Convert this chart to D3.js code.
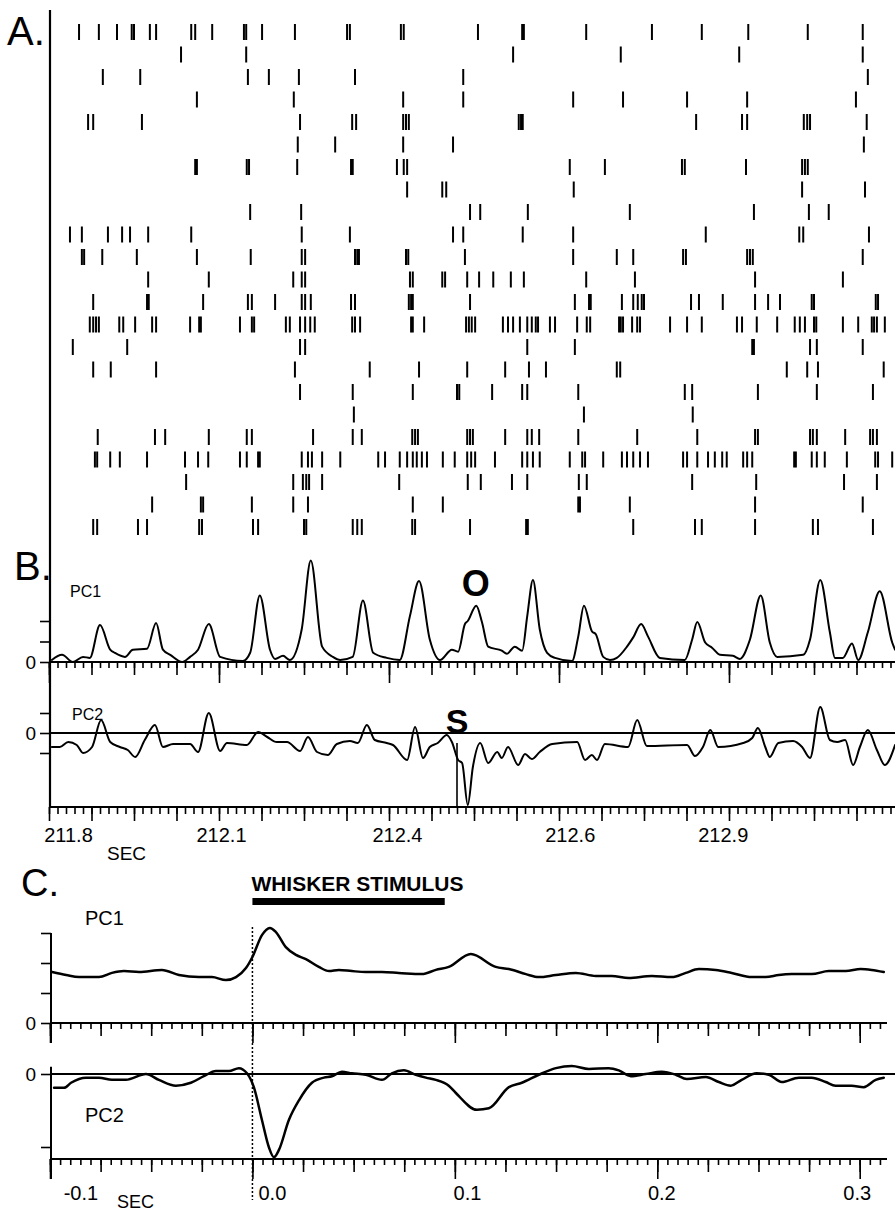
<!DOCTYPE html>
<html>
<head>
<meta charset="utf-8">
<title>Raster, PC1 / PC2 and whisker-stimulus averages</title>
<script src="https://d3js.org/d3.v7.min.js"></script>
<style>
  body { margin: 0; background: #fff; }
  svg { display: block; }
  text { font-family: "Liberation Sans", Arial, sans-serif; fill: #000; }
  .trace { fill: none; stroke: #000; stroke-linejoin: round; stroke-linecap: round; }
</style>
</head>
<body>
<svg width="895" height="1212"></svg>
<script>
// sweep shown in A and B starts here (s); spike times are ms after it
const sweepStart = 211.8;
const sweepEnd = 213.3;

// one list per unit, top row first
const spikeTimesMs = [
  [53, 88, 120, 146, 150, 178, 189, 251, 258, 288, 344, 348, 376, 434, 526, 531, 621, 626, 757, 835, 838, 948, 1064, 1152, 1234, 1339, 1436],
  [233, 348, 819, 1009, 1218, 1436],
  [95, 161, 351, 388, 441, 540, 731, 1445],
  [261, 432, 625, 731, 925, 1013, 1126, 1232, 1424],
  [69, 78, 164, 443, 535, 542, 625, 630, 635, 829, 833, 836, 1142, 1223, 1232, 1332, 1338, 1343, 1443],
  [439, 505, 625, 713, 1438],
  [258, 261, 349, 353, 438, 533, 536, 614, 626, 632, 919, 981, 1117, 1122, 1230, 1329, 1334, 1339],
  [632, 694, 701, 926, 1329, 1440],
  [355, 445, 743, 761, 845, 1025, 1244, 1341, 1376],
  [37, 58, 104, 129, 143, 175, 251, 446, 531, 713, 731, 836, 925, 1159, 1324, 1331, 1447],
  [58, 62, 94, 155, 261, 356, 446, 452, 540, 544, 547, 630, 634, 734, 925, 1002, 1031, 1119, 1124, 1232, 1237, 1242, 1436],
  [175, 282, 431, 446, 452, 637, 642, 694, 699, 738, 759, 784, 815, 838, 948, 1034, 1246, 1401],
  [78, 173, 176, 272, 351, 358, 399, 446, 452, 462, 533, 540, 635, 639, 642, 743, 928, 953, 956, 1011, 1031, 1039, 1046, 1050, 1133, 1147, 1189, 1246, 1269, 1290, 1346, 1350, 1459, 1463],
  [72, 78, 83, 88, 124, 131, 152, 182, 189, 249, 265, 268, 337, 358, 362, 418, 425, 443, 452, 461, 469, 535, 540, 549, 639, 642, 662, 736, 741, 746, 752, 801, 810, 819, 831, 844, 852, 859, 863, 884, 893, 932, 949, 955, 1006, 1009, 1013, 1029, 1038, 1043, 1096, 1126, 1152, 1214, 1223, 1249, 1285, 1316, 1325, 1334, 1350, 1354, 1401, 1428, 1452, 1456, 1461, 1475],
  [42, 138, 443, 452, 844, 928, 1241, 1244, 1343, 1355, 1436],
  [78, 109, 189, 434, 566, 653, 738, 805, 847, 877, 1002, 1008, 1302, 1338, 1357, 1473],
  [443, 536, 642, 720, 724, 782, 835, 844, 934, 1122, 1135, 1251, 1355, 1454],
  [538, 944, 1136],
  [86, 187, 205, 282, 349, 358, 466, 536, 552, 641, 646, 651, 738, 743, 748, 805, 844, 852, 865, 934, 1038, 1144, 1246, 1251, 1343, 1348, 1355, 1405, 1449, 1454, 1461],
  [81, 85, 108, 125, 173, 240, 263, 281, 337, 349, 369, 372, 446, 457, 464, 482, 514, 581, 593, 619, 632, 642, 649, 658, 667, 695, 716, 738, 745, 752, 787, 835, 844, 854, 866, 919, 941, 946, 978, 1011, 1020, 1031, 1043, 1057, 1119, 1126, 1144, 1163, 1175, 1188, 1196, 1225, 1232, 1241, 1315, 1318, 1346, 1355, 1369, 1408, 1458, 1463, 1488],
  [242, 431, 448, 454, 459, 482, 618, 739, 762, 817, 844, 935, 949, 1135, 1248, 1403, 1461],
  [182, 268, 272, 358, 431, 457, 642, 695, 934, 937, 1025, 1246, 1436],
  [78, 85, 157, 173, 265, 270, 360, 369, 450, 454, 536, 544, 552, 641, 646, 743, 842, 845, 1031, 1140, 1152, 1246, 1348, 1357, 1454]
];

// B: [time s, value]
const pc1Sweep = [
  [211.805,0.1],[211.823,0.35],[211.842,0],[211.860,0.25],[211.872,0.2],[211.890,1.8],[211.908,0.6],[211.916,0.45],
  [211.934,0.25],[211.948,0.6],[211.973,0.65],[211.989,1.9],[212.001,0.6],[212.014,0.35],[212.035,0],[212.049,0.25],
  [212.063,0.6],[212.082,1.85],[212.102,0.25],[212.142,0.05],[212.155,0.45],[212.172,3.25],[212.190,0.6],[212.199,0.15],
  [212.213,0.3],[212.225,0.1],[212.246,1.6],[212.262,4.95],[212.282,0.75],[212.301,0.25],[212.314,0.1],[212.336,0.25],
  [212.354,3.0],[212.372,0.45],[212.396,0.2],[212.419,0.1],[212.437,2.25],[212.453,3.95],[212.472,1.1],[212.490,0.1],
  [212.511,0.6],[212.522,0.5],[212.534,1.85],[212.539,2.0],[212.554,2.75],[212.564,1.95],[212.575,0.75],[212.599,0.55],
  [212.608,0.4],[212.622,0.75],[212.635,0.55],[212.644,2.25],[212.654,4.0],[212.666,1.6],[212.679,0.45],[212.693,0.2],
  [212.723,0.05],[212.734,1.25],[212.744,2.75],[212.758,1.5],[212.765,1.35],[212.778,0.25],[212.790,0.1],[212.802,0.2],
  [212.820,0.75],[212.831,1.2],[212.845,1.85],[212.857,1.25],[212.878,0.2],[212.922,0.1],[212.935,1.1],[212.944,1.95],
  [212.958,0.95],[212.970,0.7],[212.984,0.35],[213.007,0.3],[213.019,0.15],[213.037,1.1],[213.056,3.25],[213.072,0.95],
  [213.085,0.25],[213.131,0.35],[213.143,1.1],[213.161,4.0],[213.178,1.45],[213.187,0.2],[213.201,0.2],[213.217,0.9],
  [213.228,0.1],[213.245,1.45],[213.266,3.45],[213.288,0.95],[213.293,0.6]
];

const pc2Sweep = [
  [211.805,-0.7],[211.819,-0.7],[211.834,-0.45],[211.849,-0.6],[211.860,-1.0],[211.876,-0.7],[211.892,0.65],[211.908,-0.45],
  [211.925,-0.7],[211.939,-0.85],[211.952,-1.2],[211.969,-0.35],[211.987,0.4],[212.001,-0.7],[212.019,-0.55],[212.049,-0.55],
  [212.063,-0.95],[212.082,1.0],[212.102,-0.9],[212.114,-0.5],[212.149,-0.6],[212.169,0.05],[212.185,-0.2],[212.202,-0.45],
  [212.220,-0.45],[212.243,-0.9],[212.257,-0.2],[212.273,-0.95],[212.292,-1.1],[212.308,-0.55],[212.331,-0.4],[212.345,-0.5],
  [212.361,0.4],[212.375,-0.35],[212.396,-0.5],[212.407,-0.6],[212.432,-1.35],[212.446,0.3],[212.460,-1.25],[212.472,-0.7],
  [212.486,-0.5],[212.502,-0.1],[212.511,-0.45],[212.522,-1.35],[212.529,-1.5],[212.539,-3.6],[212.548,-1.7],[212.561,-0.5],
  [212.575,-1.5],[212.591,-0.95],[212.599,-1.25],[212.610,-0.7],[212.628,-1.6],[212.640,-1.05],[212.652,-1.3],[212.666,-0.95],
  [212.688,-0.55],[212.732,-0.45],[212.746,-1.35],[212.758,-1.1],[212.767,-1.35],[212.781,-0.55],[212.822,-0.7],[212.838,0.65],
  [212.855,-0.65],[212.926,-0.6],[212.940,-1.15],[212.954,-0.7],[212.967,0.15],[212.981,-0.7],[213.025,-0.5],[213.041,-0.25],
  [213.051,0.25],[213.064,-0.7],[213.072,-1.2],[213.087,-0.5],[213.113,-0.4],[213.129,-0.7],[213.143,-1.25],[213.161,1.3],
  [213.178,-0.35],[213.191,-0.45],[213.205,-0.35],[213.219,-1.6],[213.231,-0.7],[213.245,0.15],[213.261,-0.85],[213.275,-1.6],
  [213.293,-0.6]
];

// C: averages around whisker stimulus, [time s, value]
const pc1Average = [
  [-0.099,1.7],[-0.092,1.6],[-0.0857,1.53],[-0.0758,1.53],[-0.0694,1.67],[-0.0635,1.73],[-0.056,1.7],[-0.0447,1.77],
  [-0.0363,1.6],[-0.0264,1.53],[-0.02,1.53],[-0.0131,1.43],[-0.0081,1.53],[-0.0032,1.83],[0.0,2.2],[0.0047,2.93],
  [0.0086,3.17],[0.0116,3.03],[0.0165,2.53],[0.0215,2.27],[0.0264,2.13],[0.0328,1.87],[0.0378,1.73],[0.0427,1.77],
  [0.0491,1.73],[0.056,1.7],[0.064,1.7],[0.0723,1.67],[0.0837,1.63],[0.0906,1.77],[0.097,1.87],[0.1079,2.3],
  [0.1202,1.87],[0.1267,1.8],[0.1351,1.63],[0.1415,1.53],[0.1499,1.6],[0.1598,1.67],[0.1696,1.57],[0.1775,1.57],
  [0.1859,1.5],[0.1973,1.57],[0.2072,1.53],[0.2141,1.67],[0.2205,1.8],[0.2289,1.77],[0.2368,1.67],[0.2467,1.53],
  [0.2536,1.53],[0.26,1.6],[0.2664,1.63],[0.2763,1.63],[0.2847,1.73],[0.2931,1.73],[0.3005,1.8],[0.3059,1.77],[0.3119,1.7]
];

const pc2Average = [
  [-0.098,-0.19],[-0.0931,-0.19],[-0.0896,-0.12],[-0.0822,-0.05],[-0.0758,-0.05],[-0.0694,-0.08],[-0.0625,-0.08],[-0.0526,0],
  [-0.0462,-0.08],[-0.0378,-0.16],[-0.0304,-0.12],[-0.024,-0.03],[-0.018,0.04],[-0.0116,0.04],[-0.0067,0.08],[-0.0027,0.01],
  [0.0007,-0.18],[0.0047,-0.63],[0.0081,-1.0],[0.0106,-1.14],[0.0131,-1.04],[0.018,-0.63],[0.023,-0.36],[0.0294,-0.12],
  [0.0353,-0.05],[0.0393,-0.03],[0.0442,0.03],[0.0491,0.01],[0.056,-0.01],[0.064,-0.08],[0.0689,0.01],[0.0748,0.05],
  [0.0807,-0.01],[0.0857,-0.05],[0.0906,-0.08],[0.097,-0.16],[0.1005,-0.26],[0.1109,-0.49],[0.1168,-0.47],[0.1267,-0.18],
  [0.1331,-0.12],[0.1415,-0.01],[0.1499,0.08],[0.1578,0.11],[0.1662,0.07],[0.176,0.08],[0.181,0.05],[0.1869,-0.03],
  [0.1943,0],[0.2022,0.03],[0.2091,-0.01],[0.2146,-0.07],[0.224,-0.04],[0.2304,-0.11],[0.2363,-0.16],[0.2417,-0.08],
  [0.2491,0.01],[0.2551,-0.01],[0.2615,-0.11],[0.2699,-0.05],[0.2763,-0.05],[0.2832,-0.11],[0.2881,-0.16],[0.296,-0.16],
  [0.302,-0.18],[0.3079,-0.08],[0.3119,-0.05]
];

// tick labels (text and the time each one is printed at)
const sweepTickLabels = ["211.8", "212.1", "212.4", "212.6", "212.9"];
const sweepLabelTimes = [211.8335, 212.1035, 212.414, 212.719, 212.989];
const periTickLabels = ["-0.1", "0.0", "0.1", "0.2", "0.3"];
const periLabelTimes = [-0.085, 0.0096, 0.106, 0.202, 0.2985];

const stimulusWindow = [0, 0.095];
const eventO = { time: 212.553, value: 3.2 };
const eventS = { time: 212.52, value: 0 };

const svg = d3.select("svg");

// scales
const xB = d3.scaleLinear().domain([sweepStart, sweepEnd]).range([49, 899]);
const rowY = d3.scalePoint().domain(d3.range(spikeTimesMs.length)).range([32, 527]);
const yPC1B = d3.scaleLinear().domain([0, 1]).range([662, 641.5]);
const yPC2B = d3.scaleLinear().domain([0, 1]).range([733, 713]);
const xC = d3.scaleLinear().domain([-0.1, 0.3125]).range([50, 885]);
const yPC1C = d3.scaleLinear().domain([0, 1]).range([1023, 993]);
const yPC2C = d3.scaleLinear().domain([0, -1]).range([1074, 1147]);

const bottomB = 807, bottomC = 1159;

function line(g, x1, y1, x2, y2, w) {
  return g.append("line").attr("x1", x1).attr("y1", y1).attr("x2", x2).attr("y2", y2)
    .attr("stroke", "#000").attr("stroke-width", w);
}

function tickRow(scale, values, size, yPos) {
  const g = svg.append("g").attr("transform", `translate(0,${yPos})`)
    .call(d3.axisBottom(scale).tickValues(values).tickSize(size).tickFormat(""));
  g.select(".domain").remove();
  g.selectAll("line").attr("stroke", "#000").attr("stroke-width", 1.6);
}

function leftTicks(scale, values, xPos) {
  const g = svg.append("g").attr("transform", `translate(${xPos},0)`)
    .call(d3.axisLeft(scale).tickValues(values).tickSize(10).tickFormat(""));
  g.select(".domain").remove();
  g.selectAll("line").attr("stroke", "#000").attr("stroke-width", 1.6);
}

function labelRow(scale, values, labels, yPos) {
  const g = svg.append("g").attr("transform", `translate(0,${yPos})`)
    .call(d3.axisBottom(scale).tickValues(values).tickSize(0).tickPadding(0)
      .tickFormat((d, i) => labels[i]));
  g.select(".domain").remove();
  g.selectAll("text").attr("font-size", 20).attr("font-family", "Liberation Sans, Arial, sans-serif");
}

function trace(data, x, y, w) {
  svg.append("path").datum(data).attr("class", "trace").attr("stroke-width", w)
    .attr("d", d3.line().x(d => x(d[0])).y(d => y(d[1])).curve(d3.curveMonotoneX));
}

function text(x, y, str, size, extra) {
  const t = svg.append("text").attr("x", x).attr("y", y).attr("font-size", size).text(str);
  if (extra) extra(t);
  return t;
}

// ---------- A: raster ----------
svg.append("g").selectAll("g")
  .data(spikeTimesMs)
  .join("g")
  .attr("transform", (d, i) => `translate(0,${rowY(i)})`)
  .selectAll("line")
  .data(d => d)
  .join("line")
  .attr("x1", d => xB(sweepStart + d / 1000))
  .attr("x2", d => xB(sweepStart + d / 1000))
  .attr("y1", -8).attr("y2", 8)
  .attr("stroke", "#000").attr("stroke-width", 2);

// shared left axis of A and B
line(svg, xB(sweepStart) + 1, 10, xB(sweepStart) + 1, bottomB, 2.2);

text(7, 45, "A.", 40);

// ---------- B ----------
text(14, 580, "B.", 40);
text(70, 597, "PC1", 16);
text(72, 720, "PC2", 16);

const minorB = d3.range(0, 101).map(i => sweepStart + i * 0.015);
const mediumB = d3.range(0, 21).map(i => sweepStart + i * 0.075);
const longB = d3.range(0, 6).map(i => sweepStart + i * 0.3);

// PC1 baseline axis
line(svg, xB(sweepStart), yPC1B(0), 895, yPC1B(0), 2);
tickRow(xB, minorB, 6, yPC1B(0));
tickRow(xB, mediumB, 13, yPC1B(0));
tickRow(xB, longB, 21, yPC1B(0));
leftTicks(yPC1B, [0, 1, 2], xB(sweepStart) + 1);

// PC2 zero line and bottom axis
line(svg, xB(sweepStart), yPC2B(0), 895, yPC2B(0), 1.8);
leftTicks(yPC2B, [1, 0, -1], xB(sweepStart) + 1);
line(svg, xB(sweepStart), bottomB, 895, bottomB, 2.2);
tickRow(xB, minorB, 7, bottomB);
tickRow(xB, mediumB, 14, bottomB);

text(36, yPC1B(0), "0", 19, t => t.attr("text-anchor", "end").attr("dominant-baseline", "central"));
text(36, yPC2B(0), "0", 19, t => t.attr("text-anchor", "end").attr("dominant-baseline", "central"));

trace(pc1Sweep, xB, yPC1B, 2);
trace(pc2Sweep, xB, yPC2B, 2);

// S event marker and labels
line(svg, xB(eventS.time), yPC2B(-0.5), xB(eventS.time), bottomB, 1.6);
text(xB(eventO.time), yPC1B(eventO.value), "O", 36,
  t => t.attr("text-anchor", "middle").attr("font-weight", "bold"));
text(xB(eventS.time), yPC2B(eventS.value), "S", 34,
  t => t.attr("text-anchor", "middle").attr("font-weight", "bold"));

labelRow(xB, sweepLabelTimes, sweepTickLabels, 828);
text(107, 860, "SEC", 19);

// ---------- C ----------
text(21, 896, "C.", 38);
text(xC(stimulusWindow[0]) - 1, 891, "WHISKER STIMULUS", 20,
  t => t.attr("font-weight", "bold").attr("textLength", 212).attr("lengthAdjust", "spacingAndGlyphs"));
svg.append("rect")
  .attr("x", xC(stimulusWindow[0])).attr("y", 898)
  .attr("width", xC(stimulusWindow[1]) - xC(stimulusWindow[0])).attr("height", 7)
  .attr("fill", "#000");

text(85, 925, "PC1", 20);
text(85, 1122, "PC2", 20);

const minorC = d3.range(0, 83).map(i => -0.1 + i * 0.005);
const mediumC = d3.range(0, 17).map(i => -0.1 + i * 0.025);
const longC = d3.range(0, 5).map(i => -0.1 + i * 0.1);

// PC1 average axes
line(svg, xC(-0.1) + 1, yPC1C(3), xC(-0.1) + 1, yPC1C(0) + 20, 2);
leftTicks(yPC1C, [0, 1, 2, 3], xC(-0.1) + 1);
line(svg, xC(-0.1), yPC1C(0), 887, yPC1C(0), 2);
tickRow(xC, minorC, 6, yPC1C(0));
tickRow(xC, mediumC, 13, yPC1C(0));
tickRow(xC, longC, 20, yPC1C(0));

// PC2 average axes
line(svg, xC(-0.1) + 1, yPC2C(0.1), xC(-0.1) + 1, bottomC + 20, 2);
leftTicks(yPC2C, [0, -1], xC(-0.1) + 1);
line(svg, xC(-0.1), yPC2C(0), 895, yPC2C(0), 1.8);
line(svg, xC(-0.1), bottomC, 887, bottomC, 2);
tickRow(xC, minorC, 6, bottomC);
tickRow(xC, mediumC, 13, bottomC);
tickRow(xC, longC, 20, bottomC);

text(36, yPC1C(0), "0", 19, t => t.attr("text-anchor", "end").attr("dominant-baseline", "central"));
text(36, yPC2C(0), "0", 19, t => t.attr("text-anchor", "end").attr("dominant-baseline", "central"));

// stimulus onset
line(svg, xC(0), 927, xC(0), 1200, 1.5).attr("stroke-dasharray", "2,2");

trace(pc1Average, xC, yPC1C, 2.5);
trace(pc2Average, xC, yPC2C, 2.5);

labelRow(xC, periLabelTimes, periTickLabels, 1186);
text(117, 1208, "SEC", 18);
</script>
</body>
</html>
